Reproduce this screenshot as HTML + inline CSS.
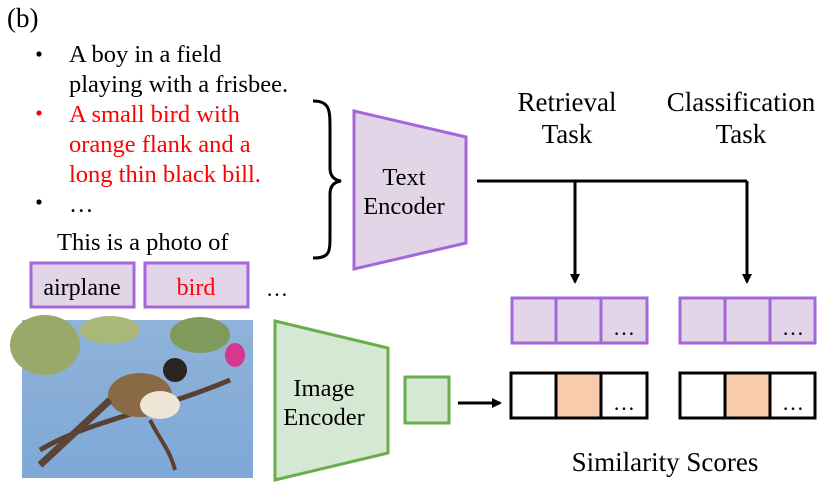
<!DOCTYPE html>
<html><head><style>
body{margin:0;background:#fff;}
svg, svg text{font-family:"Liberation Serif","DejaVu Serif",serif;}
</style></head><body>
<svg width="830" height="486" viewBox="0 0 830 486" xmlns="http://www.w3.org/2000/svg" font-family="Liberation Serif, DejaVu Serif, serif">
<defs>
<linearGradient id="sky" x1="0" y1="0" x2="0" y2="1">
<stop offset="0" stop-color="#8fb3d9"/><stop offset="1" stop-color="#7fa8d8"/>
</linearGradient>
<marker id="ah" markerWidth="10" markerHeight="10" refX="8" refY="5" orient="auto" markerUnits="userSpaceOnUse">
<path d="M0,0 L10,5 L0,10 z" fill="#000"/></marker>
</defs>
<text x="7" y="27" font-size="27">(b)</text>
<g font-size="24.5">
<circle cx="39" cy="54" r="2.6" fill="#000"/>
<text x="69" y="62">A boy in a field</text>
<text x="69" y="92">playing with a frisbee.</text>
<circle cx="39" cy="113" r="2.6" fill="#f00"/>
<g fill="#f00">
<text x="69" y="122">A small bird with</text>
<text x="69" y="152">orange flank and a</text>
<text x="69" y="182">long thin black bill.</text>
</g>
<circle cx="39" cy="202" r="2.6" fill="#000"/>
<text x="69" y="212">…</text>
<text x="57" y="250">This is a photo of</text>
</g>
<rect x="31" y="263" width="103" height="44" fill="#e1d5e7" stroke="#a466d8" stroke-width="3"/>
<text x="82" y="295" font-size="24" text-anchor="middle">airplane</text>
<rect x="145" y="263" width="103" height="44" fill="#e1d5e7" stroke="#a466d8" stroke-width="3"/>
<text x="196" y="295" font-size="24" text-anchor="middle" fill="#f00">bird</text>
<text x="266" y="296" font-size="22">…</text>
<path d="M313,101 C330,101 330,110 330,130 L330,168 C330,176 334,180 341,181 C334,182 330,186 330,194 L330,235 C330,252 330,258 313,258" fill="none" stroke="#000" stroke-width="3"/>
<polygon points="354,111 466,137 466,243 354,269" fill="#e1d5e7" stroke="#a466d8" stroke-width="3"/>
<text x="404" y="185" font-size="24.5" text-anchor="middle">Text</text>
<text x="404" y="214" font-size="24.5" text-anchor="middle">Encoder</text>
<polyline points="477,181 747,181" fill="none" stroke="#000" stroke-width="3"/>
<line x1="575" y1="181" x2="575" y2="282" stroke="#000" stroke-width="3" marker-end="url(#ah)"/>
<line x1="747" y1="181" x2="747" y2="282" stroke="#000" stroke-width="3" marker-end="url(#ah)"/>
<g font-size="27" text-anchor="middle">
<text x="567" y="111">Retrieval</text><text x="567" y="143">Task</text>
<text x="741" y="111">Classification</text><text x="741" y="143">Task</text>
</g>
<g stroke="#a466d8" stroke-width="3" fill="#e1d5e7">
<rect x="512" y="298" width="44" height="45"/><rect x="556" y="298" width="45" height="45"/><rect x="601" y="298" width="46" height="45"/>
<rect x="680" y="298" width="45" height="45"/><rect x="725" y="298" width="45" height="45"/><rect x="770" y="298" width="45" height="45"/>
</g>
<g stroke="#000" stroke-width="3">
<rect x="511" y="373" width="45" height="45" fill="#fff"/><rect x="556" y="373" width="45" height="45" fill="#f8cbad"/><rect x="601" y="373" width="46" height="45" fill="#fff"/>
<rect x="680" y="373" width="45" height="45" fill="#fff"/><rect x="725" y="373" width="45" height="45" fill="#f8cbad"/><rect x="770" y="373" width="45" height="45" fill="#fff"/>
</g>
<g font-size="22" text-anchor="middle">
<text x="624" y="335">…</text><text x="793" y="335">…</text>
<text x="624" y="410">…</text><text x="793" y="410">…</text>
</g>
<polygon points="275,321 388,348 388,453 275,480" fill="#d5e8d4" stroke="#6aad4c" stroke-width="3"/>
<text x="324" y="396" font-size="24.5" text-anchor="middle">Image</text>
<text x="324" y="425" font-size="24.5" text-anchor="middle">Encoder</text>
<rect x="405" y="377" width="44" height="46" fill="#d5e8d4" stroke="#6aad4c" stroke-width="3"/>
<line x1="458" y1="403" x2="500" y2="403" stroke="#000" stroke-width="3" marker-end="url(#ah)"/>
<text x="665" y="471" font-size="27" text-anchor="middle">Similarity Scores</text>
<rect x="22" y="320" width="231" height="158" fill="url(#sky)"/>
<ellipse cx="45" cy="345" rx="35" ry="30" fill="#9aa86a"/>
<ellipse cx="110" cy="330" rx="30" ry="14" fill="#a9b878"/>
<ellipse cx="200" cy="335" rx="30" ry="18" fill="#7f9a5a"/>
<ellipse cx="235" cy="355" rx="10" ry="12" fill="#d6388f"/>
<path d="M40,450 C90,420 160,410 230,380" stroke="#5a4030" stroke-width="5" fill="none"/>
<path d="M150,420 C160,440 170,450 175,470" stroke="#5a4030" stroke-width="4" fill="none"/>
<ellipse cx="140" cy="395" rx="32" ry="22" fill="#8a6a45"/>
<ellipse cx="160" cy="405" rx="20" ry="14" fill="#f0e6d8"/>
<circle cx="175" cy="370" r="12" fill="#2a2420"/>
<path d="M110,400 L40,465" stroke="#5a4535" stroke-width="7"/>
</svg>
</body></html>
